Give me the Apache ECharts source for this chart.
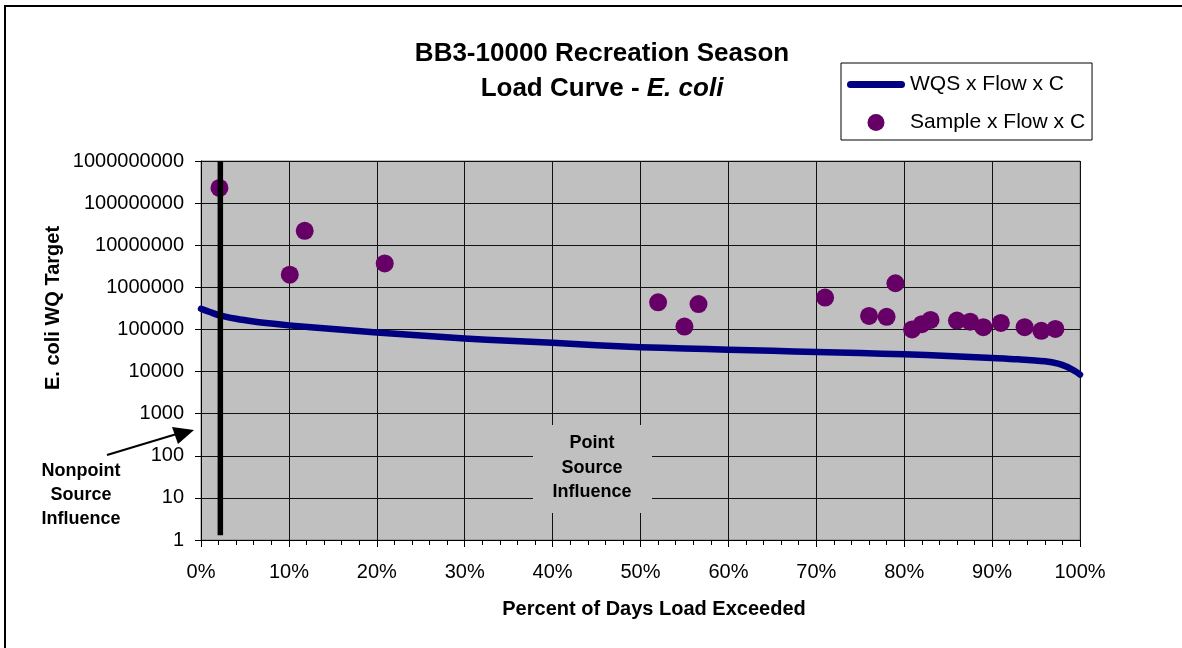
<!DOCTYPE html>
<html>
<head>
<meta charset="utf-8">
<script src="https://cdn.jsdelivr.net/npm/echarts@6/dist/echarts.min.js"></script>
<style>html,body{margin:0;padding:0;background:#fff}#c{width:1182px;height:648px}</style>
</head>
<body>
<div id="c"></div>
<script>
// ---- data ----
const curveX = [0, 1, 2, 4, 6, 8, 10, 15, 20, 25, 30, 35, 40, 45, 50, 55, 60, 65, 70, 75, 80, 85, 90, 93, 96, 97.5, 98.5, 99.5, 100];
const curveY = [310000, 260000, 220000, 180000, 155000, 138000, 125000, 102000, 85000, 72000, 61000, 54000, 48000, 42000, 38000, 35500, 33000, 31000, 29000, 27500, 25700, 23500, 21000, 19500, 17500, 15500, 13000, 10000, 8500];
const sampleX = [2.1, 10.1, 11.8, 20.9, 52.0, 55.0, 56.6, 71.0, 76.0, 78.0, 79.0, 80.9, 82.0, 83.0, 86.0, 87.5, 89.0, 91.0, 93.7, 95.6, 97.2];
const sampleY = [2.3e8, 2.0e6, 2.2e7, 3.7e6, 4.4e5, 1.17e5, 4.0e5, 5.7e5, 2.1e5, 2.0e5, 1.25e6, 1.0e5, 1.33e5, 1.68e5, 1.62e5, 1.53e5, 1.13e5, 1.43e5, 1.13e5, 9.3e4, 1.03e5];
const dividerX = [2.2, 2.2];
const dividerY = [1.3, 1e9];
const seriesNames = ['WQS x Flow x C', 'Sample x Flow x C'];

const FONT = "'Liberation Sans', Arial, sans-serif";
const chart = echarts.init(document.getElementById('c'), null, {renderer: 'canvas'});

const zip = (a, b) => a.map((v, i) => [v, b[i]]);

chart.setOption({
  animation: false,
  backgroundColor: '#fff',
  title: {
    left: 597, top: 31, textAlign: 'center',
    text: '{b|BB3-10000 Recreation Season}\n{b|Load Curve - }{i|E. coli}',
    textStyle: {
      rich: {
        b: {fontFamily: FONT, fontSize: 26, fontWeight: 'bold', color: '#000', lineHeight: 35},
        i: {fontFamily: FONT, fontSize: 26, fontWeight: 'bold', fontStyle: 'italic', color: '#000', lineHeight: 35}
      }
    }
  },
  legend: {
    left: 841, top: 63, orient: 'vertical',
    padding: [11, 7, 7, 6],
    itemWidth: 58, itemHeight: 17, itemGap: 17,
    backgroundColor: '#fff', borderColor: '#000', borderWidth: 1, borderRadius: 0,
    textStyle: {fontFamily: FONT, fontSize: 21, color: '#000'},
    data: [
      {name: seriesNames[0], icon: 'path://M3.5,0 L54.5,0 A3.5,3.5 0 0 1 54.5,7 L3.5,7 A3.5,3.5 0 0 1 3.5,0 Z',
       itemStyle: {color: '#000080'}},
      {name: seriesNames[1], icon: 'circle'}
    ]
  },
  grid: {
    left: 201, right: 102, top: 161, bottom: 108,
    show: true, backgroundColor: '#C0C0C0', borderColor: '#808080', borderWidth: 1
  },
  xAxis: {
    type: 'value', min: 0, max: 100, interval: 10,
    axisLine: {show: true, onZero: false, lineStyle: {color: '#000', width: 1}},
    axisTick: {show: true, length: 7, lineStyle: {color: '#000'}},
    minorTick: {show: true, splitNumber: 5, length: 5, lineStyle: {color: '#000'}},
    splitLine: {show: true, lineStyle: {color: '#111', width: 1}},
    axisLabel: {formatter: '{value}%', fontFamily: FONT, fontSize: 20, color: '#000', margin: 22}
  },
  yAxis: {
    type: 'log', logBase: 10, min: 1, max: 1e9,
    axisLine: {show: true, lineStyle: {color: '#000', width: 1}},
    axisTick: {show: true, length: 6, lineStyle: {color: '#000'}},
    splitLine: {show: true, lineStyle: {color: '#111', width: 1}},
    axisLabel: {formatter: v => String(Math.round(v)), fontFamily: FONT, fontSize: 20, color: '#000', margin: 17}
  },
  series: [
    {
      name: seriesNames[0], type: 'line', data: zip(curveX, curveY),
      smooth: 0.3, showSymbol: false, symbol: 'none', z: 3,
      color: '#000080',
      lineStyle: {color: '#000080', width: 6.5, cap: 'round', join: 'round'}
    },
    {
      name: seriesNames[1], type: 'scatter', data: zip(sampleX, sampleY),
      symbol: 'circle', symbolSize: 18, z: 4,
      itemStyle: {color: '#660066', opacity: 1}
    },
    {
      name: 'divider', type: 'line', data: zip(dividerX, dividerY),
      showSymbol: false, symbol: 'none', z: 6, silent: true,
      lineStyle: {color: '#000', width: 5.5, cap: 'butt'}
    }
  ],
  graphic: [
    {type: 'rect', z: 0, shape: {x: 5, y: 6, width: 1200, height: 700},
     style: {fill: 'none', stroke: '#000', lineWidth: 2}},
    {type: 'text', z: 10, x: 53, y: 308, rotation: Math.PI / 2,
     style: {text: 'E. coli WQ Target', font: "bold 20px " + FONT, fill: '#000', align: 'center', verticalAlign: 'middle'}},
    {type: 'text', z: 10, x: 654, y: 609,
     style: {text: 'Percent of Days Load Exceeded', font: "bold 20px " + FONT, fill: '#000', align: 'center', verticalAlign: 'middle'}},
    {type: 'rect', z: 10, shape: {x: 533, y: 425, width: 119, height: 88},
     style: {fill: '#C0C0C0', stroke: 'none'}},
    {type: 'text', z: 11, x: 592, y: 468,
     style: {text: 'Point\nSource\nInfluence', font: "bold 18px " + FONT, fill: '#000', align: 'center', verticalAlign: 'middle', lineHeight: 24.5}},
    {type: 'text', z: 11, x: 81, y: 495,
     style: {text: 'Nonpoint\nSource\nInfluence', font: "bold 18px " + FONT, fill: '#000', align: 'center', verticalAlign: 'middle', lineHeight: 24}},
    {type: 'line', z: 11, shape: {x1: 107, y1: 455, x2: 180, y2: 433},
     style: {stroke: '#000', lineWidth: 2}},
    {type: 'polygon', z: 11, shape: {points: [[194, 430], [172, 427], [178, 444]]},
     style: {fill: '#000'}}
  ]
});
</script>
</body>
</html>
